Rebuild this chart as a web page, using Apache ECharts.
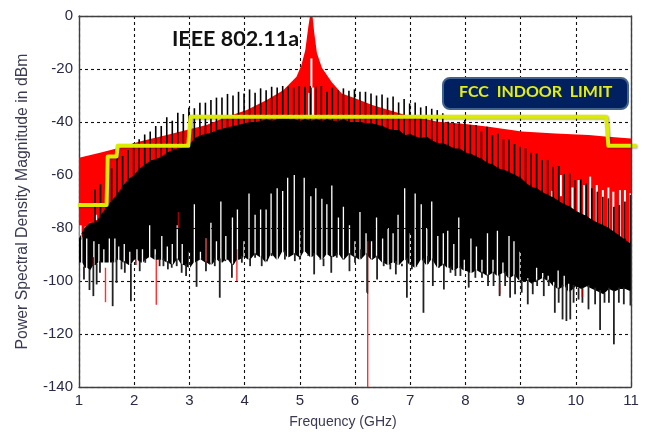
<!DOCTYPE html>
<html><head><meta charset="utf-8">
<style>html,body{margin:0;padding:0;background:#fff}#c{width:645px;height:432px}</style>
<script src="https://cdn.jsdelivr.net/npm/echarts@6/dist/echarts.min.js"></script>
</head><body><div id="c"></div>
<script>
const yTicks = [0,-20,-40,-60,-80,-100,-120,-140];
const xTicks = [1,2,3,4,5,6,7,8,9,10,11];

const redTopF  = [1,1.38,1.68,2.1,2.59,2.95,3.31,3.68,4.04,4.4,4.7,4.94,5.03,5.1,5.155,5.185,5.23,5.26,5.31,5.4,5.58,5.76,6,6.31,6.61,6.91,7.5,8,8.42,9.02,9.63,10.23,10.53,11];
const redTopDb = [-53.5,-51.6,-50,-47.4,-44.9,-43,-41.1,-38,-35.5,-31.7,-28,-22.9,-18.5,-12.8,-4,0,0,-6,-14,-19.5,-25,-29.2,-31,-33.6,-35.5,-37.4,-39.9,-40.8,-41.8,-43.6,-44.3,-44.9,-45.5,-46.2];

const massF = [1,1.1,1.2,1.3,1.4,1.5,1.6,1.7,1.8,1.9,2,2.1,2.2,2.3,2.4,2.5,2.6,2.7,2.8,2.9,3,3.1,3.2,3.3,3.4,3.5,3.6,3.7,3.8,3.9,4,4.1,4.2,4.3,4.4,4.5,4.6,4.7,4.8,4.9,5,5.1,5.2,5.3,5.4,5.5,5.6,5.7,5.8,5.9,6,6.1,6.2,6.3,6.4,6.5,6.6,6.7,6.8,6.9,7,7.1,7.2,7.3,7.4,7.5,7.6,7.7,7.8,7.9,8,8.1,8.2,8.3,8.4,8.5,8.6,8.7,8.8,8.9,9,9.1,9.2,9.3,9.4,9.5,9.6,9.7,9.8,9.9,10,10.1,10.2,10.3,10.4,10.5,10.6,10.7,10.8,10.9,11];
const massTopDb = [-84,-80,-78,-78,-75,-72,-69.5,-67,-64,-61.5,-60,-57.5,-56,-54.5,-54,-53,-51.5,-50.5,-50,-49.5,-48.5,-46,-45,-44.5,-44,-43,-42.5,-42,-41.5,-41,-40.5,-40,-40,-39.5,-39,-39.5,-39,-38.5,-39,-39,-39.5,-39,-39.5,-39,-39.5,-39,-39.5,-39.5,-39,-40,-40,-40,-40.5,-40.5,-41,-41.5,-42.5,-43,-43,-45,-44.5,-45.5,-46,-45.5,-47,-48,-48,-49,-50,-50,-51.5,-52,-53,-54,-55.5,-56,-57.5,-58,-59,-60,-61,-63,-64.5,-65,-66.5,-67.5,-68.5,-70,-71,-72,-73.5,-74.5,-75.5,-77,-78,-79,-80,-81.5,-83,-84.5,-86];
const massLowDb = [-93,-95,-96,-94,-93,-93,-93,-92,-93,-94,-92,-93,-92,-91,-92,-92,-93,-94,-92,-94,-95,-93,-92,-93,-94,-92,-93,-92,-94,-92,-91,-92,-90,-91,-93,-90,-92,-89,-91,-90,-91,-89,-91,-90,-92,-90,-91,-90,-92,-90,-91,-92,-90,-92,-91,-93,-94,-93,-94,-92,-94,-95,-92,-94,-92,-95,-94,-95,-96,-95,-96,-97,-96,-97,-98,-97,-98,-97,-99,-98,-100,-100,-101,-100,-99,-100,-102,-103,-102,-104,-102,-103,-102,-103,-104,-105,-103,-104,-103,-103,-104];

const combTopF  = [1.29,1.39,1.49,1.59,1.69,1.79,1.89,1.99,2.09,2.19,2.29,2.39,2.49,2.59,2.69,2.79,2.89,2.99,3.09,3.19,3.29,3.39,3.49,3.59,3.69,3.79,3.89,3.99,4.09,4.19,4.29,4.39,4.49,4.59,4.69,4.79,4.89,4.99,5.09,5.19,5.29,5.39,5.49,5.59,5.69,5.79,5.89,5.99,6.09,6.19,6.29,6.39,6.49,6.59,6.69,6.79,6.89,6.99,7.09,7.19,7.29,7.39,7.49,7.59,7.69,7.79,7.89,7.99,8.09,8.19,8.29,8.39,8.49,8.59,8.69,8.79,8.89,8.99,9.09,9.19,9.29,9.39,9.49,9.59,9.69,9.79,9.89,9.99,10.09,10.19,10.29,10.39,10.49,10.59,10.69,10.79,10.89,10.99];
const combTopDb = [-65.4,-63.5,-61,-57.5,-53.3,-52.8,-50.6,-48,-46.5,-44.7,-43.6,-41.5,-41.5,-38.2,-39.5,-36.5,-37,-34.6,-34.8,-32.7,-32.7,-31.7,-30.8,-30.8,-29.4,-30,-28.6,-29.2,-27.7,-29,-27.3,-28,-26.7,-27,-26.4,-26.7,-27,-26.4,-26.7,-26.4,-26.7,-26.4,-28.6,-27,-28,-27.3,-28.2,-27.7,-28.6,-28.6,-29.2,-30,-29.6,-30.8,-30.4,-32.6,-31.3,-33,-32.6,-34.5,-34,-35,-35.5,-36.7,-39.9,-40.5,-40.5,-39.2,-41.1,-41.1,-43.6,-41.8,-44.9,-44.3,-46.5,-46.5,-48.3,-49.3,-49.9,-51.6,-51.8,-54.3,-54.3,-56.9,-56.6,-59.6,-59.4,-61.9,-61.6,-63.1,-65,-66.3,-68.2,-68.8,-72,-71.3,-70,-67.5];

const notchF  = [1.05,1.14,1.27,1.36,1.45,1.55,1.65,1.72,1.82,1.92,2.05,2.15,2.28,2.38,2.5,2.6,2.69,2.78,2.87,3,3.09,3.2,3.3,3.39,3.49,3.57,3.66,3.78,3.87,3.99,4.08,4.19,4.29,4.39,4.48,4.59,4.69,4.78,4.9,5,5.08,5.2,5.29,5.4,5.49,5.58,5.7,5.79,5.9,6,6.09,6.2,6.3,6.39,6.5,6.6,6.69,6.78,6.9,7,7.09,7.2,7.3,7.39,7.5,7.6,7.68,7.79,7.88,7.98,8.1,8.2,8.3,8.4,8.5,8.58,8.68,8.79,8.88,8.99,9.13,9.29,9.4,9.5,9.6,9.68,9.79,9.87];
const notchDb = [-82,-84,-85,-86,-88,-84,-84,-87,-86,-89,-88,-88,-79,-88,-83,-87,-86,-79,-86,-89,-71,-89,-84,-78,-85,-70,-83,-76,-73,-85,-67,-75,-73,-73,-67,-65,-66,-61,-60,-81,-61,-68,-65,-69,-71,-64,-76,-72,-79,-85,-74,-82,-85,-76,-84,-80,-82,-75,-65,-82,-67,-71,-80,-70,-83,-82,-81,-86,-76,-92,-84,-87,-92,-82,-92,-81,-93,-83,-85,-89,-99,-95,-97,-98,-100,-96,-98,-101];

const combLowF  = [1.09,1.19,1.26,1.32,1.38,1.61,1.68,1.77,1.83,1.94,2.1,2.2,2.46,2.53,2.61,2.68,2.77,2.86,2.94,3.13,3.22,3.3,3.37,3.46,3.55,3.65,3.77,3.95,4.1,4.19,4.31,4.4,4.49,4.73,4.82,4.91,5,5.15,5.26,5.37,5.43,5.57,5.67,5.79,5.9,6,6.11,6.22,6.31,6.4,6.52,6.64,6.74,6.85,6.94,7.03,7.12,7.24,7.32,7.41,7.52,7.61,7.73,7.82,7.91,8.06,8.18,8.3,8.41,8.51,8.62,8.72,8.81,8.9,9.02,9.13,9.22,9.3,9.42,9.51,9.62,9.69,9.76,9.83,9.9,9.96,10.05,10.12,10.23,10.35,10.44,10.52,10.6,10.69,10.78,10.87,10.99];
const combLowDb = [-99.4,-103.4,-105.7,-101.3,-96.9,-109.5,-100.7,-95.6,-96.9,-107.6,-96.3,-93.1,-94.4,-94.4,-95.6,-95,-94.4,-96.9,-98.1,-102.2,-91.9,-96.3,-93.1,-94.4,-106.3,-91.9,-98.8,-93.1,-94.4,-91.2,-94.4,-91.9,-90.6,-91.9,-90.6,-92.5,-91.9,-90,-97.5,-91.9,-94.4,-96.9,-91.2,-91.9,-96.3,-93.1,-88,-104.4,-91.9,-99.4,-94.4,-95.6,-97.5,-94.4,-106.3,-95.6,-94.4,-112,-90.6,-101.9,-95,-103.2,-96.9,-98.1,-98.1,-102.5,-98.8,-98.8,-101.9,-101.9,-105.7,-101.9,-106.3,-105,-104.4,-108.8,-105,-101.9,-105.7,-101.9,-112,-108.2,-114.5,-115.1,-114.5,-108.2,-107,-108.2,-110.7,-108.8,-118.5,-108.2,-108.2,-123.9,-108.2,-108.8,-109.2];

const redGapF   = [1.03,1.12,1.21,1.31,5.21,5.17,5.24,9.57,9.73,9.94,10.05,10.15,10.26,10.38,10.49,10.59,10.68,10.8,10.89,10.99];
const redGapTop = [-79,-79.5,-78,-75,-16,-29,-27,-66,-60,-64.7,-61.9,-63.8,-60.6,-63.8,-65.7,-64.7,-66.3,-65.7,-65.7,-66.9];
const redGapLow = [-84,-83,-80,-77,-27,-38,-38,-70,-68,-73,-75,-76,-78,-78,-80,-82,-82,-84,-84,-86];

const redSpikeF   = [1.48,2.4,3.86,6.23];
const redSpikeTop = [-95,-90,-88,-105];
const redSpikeLow = [-108,-109,-100,-140];
const darkSpikeF   = [1.26,2.03,2.8,3.3,6.23,8.62,10.12];
const darkSpikeTop = [-91,-92,-74,-84,-85,-101,-103];
const darkSpikeLow = [-94,-94,-80,-93,-105,-105,-106];

const limitF  = [0.98,1.5,1.52,1.68,1.7,2.98,3.02,10.55,10.59,11.1];
const limitDb = [-71.3,-71.3,-53,-53,-49,-49,-38,-38,-49,-49];

function nearest(f, arr){
  let best = 0;
  massF.forEach((m,i)=>{ if(Math.abs(m-f) < Math.abs(massF[best]-f)) best = i; });
  return arr[best];
}
function polygon(name, pts, color){
  return {type:'custom',name,coordinateSystem:'cartesian2d',silent:true,clip:true,
    encode:{x:0,y:1},data:[pts[0]],
    renderItem:(p,api)=>({type:'polygon',shape:{points:pts.map(q=>api.coord(q))},style:{fill:color,stroke:null}})};
}
function vlines(name, rows, color, width){
  return {type:'custom',name,coordinateSystem:'cartesian2d',silent:true,clip:true,
    encode:{x:0,y:[1,2]},data:rows,
    renderItem:(p,api)=>{
      const a=api.coord([api.value(0),api.value(1)]),b=api.coord([api.value(0),api.value(2)]);
      return {type:'line',shape:{x1:a[0],y1:a[1],x2:b[0],y2:b[1]},style:{stroke:color,lineWidth:width}};
    }};
}
const redPts = redTopF.map((f,i)=>[f,redTopDb[i]]).concat(massF.map((f,i)=>[f,massTopDb[i]-2]).reverse());
const hw = 0.012;
const lower = [];
massF.forEach((f,i)=>lower.push([f,massLowDb[i]]));
notchF.forEach((f,i)=>{
  const b = nearest(f,massLowDb);
  lower.push([f-hw,b],[f-hw+0.0001,notchDb[i]],[f+hw-0.0001,notchDb[i]],[f+hw,b]);
});
const lowerSorted = lower
  .filter(p=>!(massF.includes(p[0]) && notchF.some(n=>Math.abs(n-p[0])<=hw)))
  .map((p,i)=>[p[0],p[1],i]).sort((a,b)=>a[0]-b[0]||a[2]-b[2]).map(p=>[p[0],p[1]]);
const massPts = massF.map((f,i)=>[f,massTopDb[i]]).concat(lowerSorted.reverse());

const option = {
  animation:false,
  backgroundColor:'#fff',
  grid:{left:79,top:16,width:552,height:371,show:false,outerBoundsMode:'none',containLabel:false},
  xAxis:[{type:'value',min:1,max:11,interval:1,position:'bottom',
      name:'Frequency (GHz)',nameLocation:'middle',nameGap:28,
      nameTextStyle:{fontFamily:'Liberation Sans',fontSize:14,color:'#3a3a50',padding:[0,24,0,0]},
      axisLine:{show:true,onZero:false,lineStyle:{color:'#404040',width:1.4}},axisTick:{show:false},
      axisLabel:{fontFamily:'Liberation Sans',fontSize:15,color:'#2a2a48',margin:6,
        customValues:xTicks,formatter:v=>String(v),hideOverlap:false},
      splitLine:{show:true,lineStyle:{type:[3,3],color:'#111',width:1.1}}},
    {type:'value',min:1,max:11,interval:1,position:'top',z:10,
      axisLine:{show:true,onZero:false,lineStyle:{color:'#404040',width:1.4}},axisTick:{show:false},axisLabel:{show:false},splitLine:{show:false}}],
  yAxis:[{type:'value',min:-140,max:0,interval:20,position:'left',
      name:'Power Spectral Density Magnitude in dBm',nameLocation:'middle',nameGap:48,
      nameTextStyle:{fontFamily:'Liberation Sans',fontSize:15.8,color:'#3a3a50'},
      axisLine:{show:true,onZero:false,lineStyle:{color:'#404040',width:1.4}},axisTick:{show:false},
      axisLabel:{fontFamily:'Liberation Sans',fontSize:15,color:'#2a2a48',margin:6,formatter:v=>yTicks.includes(v)?String(v):''},
      splitLine:{show:true,lineStyle:{type:[3,3],color:'#111',width:1.1}}},
    {type:'value',min:-140,max:0,interval:20,position:'right',z:10,
      axisLine:{show:true,onZero:false,lineStyle:{color:'#404040',width:1.4}},axisTick:{show:false},axisLabel:{show:false},splitLine:{show:false}}],
  series:[
    polygon('red band',redPts,'#ff0000'),
    vlines('red gaps',redGapF.map((f,i)=>[f,redGapTop[i],redGapLow[i]]),'#ffffff',2),
    vlines('red spikes',redSpikeF.map((f,i)=>[f,redSpikeTop[i],redSpikeLow[i]]),'#ff3030',1.4),
    polygon('black mass',massPts,'#000000'),
    vlines('upper comb',combTopF.map((f,i)=>[f,combTopDb[i],nearest(f,massTopDb)-1]),'#000000',1.6),
    vlines('lower comb',combLowF.map((f,i)=>[f,nearest(f,massLowDb)+0.5,combLowDb[i]]),'#222222',1.8),
    vlines('dark red',darkSpikeF.map((f,i)=>[f,darkSpikeTop[i],darkSpikeLow[i]]),'#a00000',1.4),
    {type:'custom',name:'FCC limit',coordinateSystem:'cartesian2d',silent:true,clip:false,z:5,
      encode:{x:0,y:1},data:[[limitF[0],limitDb[0]]],
      renderItem:(p,api)=>({type:'polyline',shape:{points:limitF.map((f,i)=>api.coord([f,limitDb[i]]))},
        style:{stroke:'#dcec00',fill:null,lineWidth:4,lineJoin:'round',shadowColor:'rgba(0,0,0,0.35)',shadowBlur:2,shadowOffsetX:1,shadowOffsetY:1}})}
  ],
  graphic:[
    {type:'text',z:100,left:172,top:28,style:{text:'IEEE 802.11a',fontFamily:'Lato',fontWeight:'bold',fontSize:21.5,fill:'#111'}},
    {type:'rect',z:100,shape:{x:443,y:78,width:185,height:31,r:7},style:{fill:'#002060',stroke:'#41628f',lineWidth:2}},
    {type:'text',z:101,left:459,top:84,style:{text:'FCC  INDOOR  LIMIT',fontFamily:'Lato',fontWeight:'bold',fontSize:16,fill:'#e4ee10'}}
  ]
};
echarts.init(document.getElementById('c'),null,{renderer:'canvas'}).setOption(option);
</script></body></html>
